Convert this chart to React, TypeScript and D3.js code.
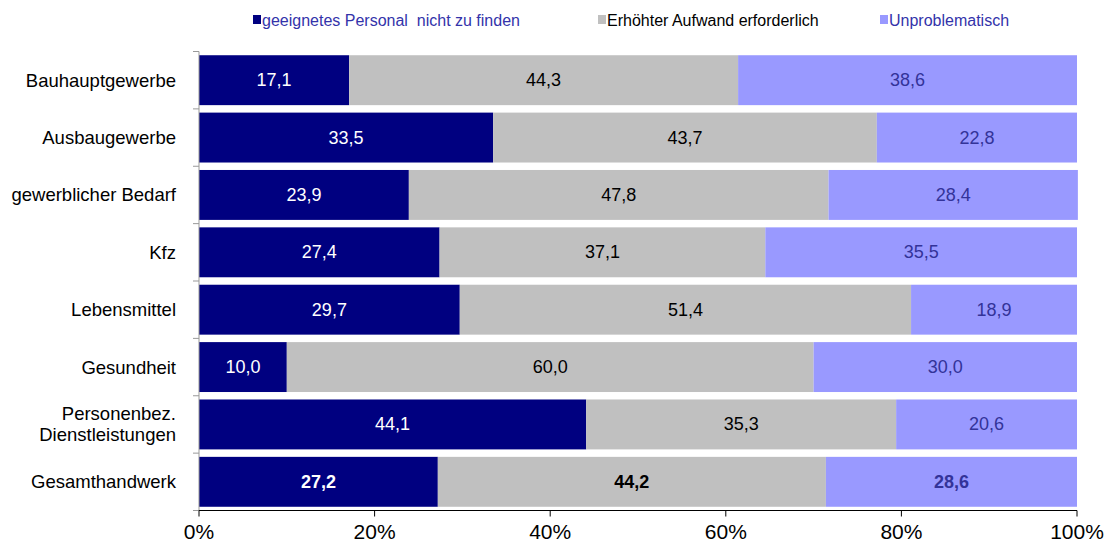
import React from "react";
import * as d3 from "d3";

const categories = [
  "Bauhauptgewerbe",
  "Ausbaugewerbe",
  "gewerblicher Bedarf",
  "Kfz",
  "Lebensmittel",
  "Gesundheit",
  "Personenbez.\nDienstleistungen",
  "Gesamthandwerk",
];
const seriesNames = [
  "geeignetes Personal  nicht zu finden",
  "Erhöhter Aufwand erforderlich",
  "Unproblematisch",
];
const personal = [17.1, 33.5, 23.9, 27.4, 29.7, 10.0, 44.1, 27.2];
const aufwand = [44.3, 43.7, 47.8, 37.1, 51.4, 60.0, 35.3, 44.2];
const unproblematisch = [38.6, 22.8, 28.4, 35.5, 18.9, 30.0, 20.6, 28.6];
const xTicks = [0, 20, 40, 60, 80, 100];

const colors = ["#000080", "#C0C0C0", "#9999FF"];
const labelColors = ["#FFFFFF", "#000000", "#333399"];
const legendTextColors = ["#3333AA", "#000000", "#3333AA"];

export default function App() {
  const width = 1113;
  const height = 557;
  const left = 199;
  const right = 1077;
  const top = 51.5;
  const bottom = 510.5;
  const x = d3.scaleLinear().domain([0, 100]).range([left, right]);
  const y = d3
    .scaleBand<number>()
    .domain(d3.range(categories.length))
    .range([top, bottom])
    .paddingInner(0.13)
    .paddingOuter(0.065);
  const series = [personal, aufwand, unproblematisch];
  const fmt = (v: number) => v.toFixed(1).replace(".", ",");
  const font = "Arial, 'Liberation Sans', sans-serif";
  const legendX = [253, 598, 880];
  const bandStep = (bottom - top) / categories.length;

  return (
    <svg
      width={width}
      height={height}
      style={{ position: "absolute", left: 0, top: 0, background: "#fff" }}
      fontFamily={font}
    >
      {/* legend */}
      {seriesNames.map((n, i) => (
        <g key={n}>
          <rect x={legendX[i]} y={15} width={8} height={9} fill={colors[i]} />
          <text
            x={legendX[i] + 9}
            y={20}
            dominantBaseline="central"
            fontSize={16}
            fill={legendTextColors[i]}
            style={{ whiteSpace: "pre" }}
          >
            {n}
          </text>
        </g>
      ))}
      {/* bars */}
      {categories.map((c, ci) => {
        let acc = 0;
        const yy = y(ci)!;
        return (
          <g key={c}>
            {series.map((s, si) => {
              const v = s[ci];
              const x0 = x(acc);
              acc += v;
              const x1 = x(acc);
              return (
                <g key={si}>
                  <rect
                    x={x0}
                    y={yy}
                    width={x1 - x0}
                    height={y.bandwidth()}
                    fill={colors[si]}
                  />
                  <text
                    x={(x0 + x1) / 2}
                    y={yy + y.bandwidth() / 2}
                    textAnchor="middle"
                    dominantBaseline="central"
                    fontSize={18}
                    fontWeight={ci === categories.length - 1 ? "bold" : "normal"}
                    fill={labelColors[si]}
                  >
                    {fmt(v)}
                  </text>
                </g>
              );
            })}
            {c.split("\n").map((line, li, arr) => (
              <text
                key={li}
                x={176}
                y={yy + y.bandwidth() / 2 + (li - (arr.length - 1) / 2) * 21}
                textAnchor="end"
                dominantBaseline="central"
                fontSize={18.5}
                fill="#000"
              >
                {line}
              </text>
            ))}
          </g>
        );
      })}
      {/* left axis */}
      <line x1={left} x2={left} y1={top} y2={bottom} stroke="#999" strokeWidth={1} />
      {d3.range(categories.length + 1).map((i) => (
        <line
          key={i}
          x1={193}
          x2={left}
          y1={top + i * bandStep}
          y2={top + i * bandStep}
          stroke="#999"
        />
      ))}
      {/* bottom axis */}
      <line x1={left} x2={right} y1={bottom} y2={bottom} stroke="#000" strokeWidth={1} />
      {xTicks.map((t) => (
        <g key={t}>
          <line x1={x(t)} x2={x(t)} y1={bottom} y2={bottom + 6} stroke="#000" />
          <text
            x={x(t)}
            y={539}
            textAnchor="middle"
            fontSize={21}
            fill="#000"
          >
            {t}%
          </text>
        </g>
      ))}
    </svg>
  );
}
